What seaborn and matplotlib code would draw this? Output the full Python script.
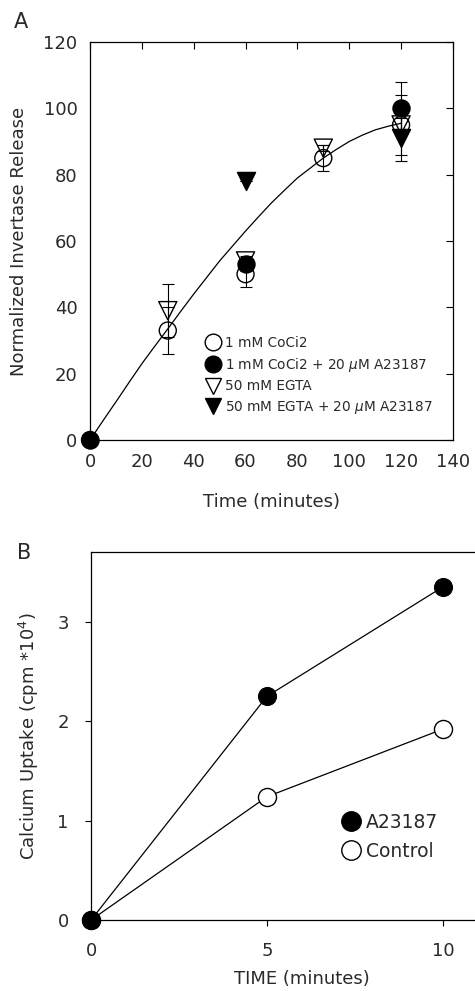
import numpy as np
import pandas as pd
import matplotlib
matplotlib.use("Agg")
import matplotlib.pyplot as plt
import seaborn as sns
from matplotlib.lines import Line2D

# ---------------- Panel A data ----------------
time_a = [0, 30, 60, 90, 120]
cocl2 = [0, 33, 50, 85, 95]
cocl2_err = [0, 7, 4, 4, 9]

time_cocl2_a23 = [0, 60, 120]
cocl2_a23 = [0, 53, 100]
cocl2_a23_err = [0, 2, 8]

time_egta = [30, 60, 90, 120]
egta = [39, 54, 88, 95]
egta_err = [8, 1.5, 1, 2]

time_egta_a23 = [60, 120]
egta_a23 = [78, 91]
egta_a23_err = [0, 7]

curve_x = [0, 5, 10, 15, 20, 25, 30, 35, 40, 45, 50, 55, 60, 65, 70, 75, 80,
           85, 90, 95, 100, 105, 110, 115, 120]
curve_y = [0, 5.8, 11.5, 17.3, 23, 28.3, 33.5, 38.8, 44, 49, 54, 58.5, 63,
           67.3, 71.5, 75.3, 79, 82, 85, 87.6, 90, 91.9, 93.5, 94.6, 95.5]

labels_a = ["1 mM CoCi2", "1 mM CoCi2 + 20 $\\mu$M A23187",
            "50 mM EGTA", "50 mM EGTA + 20 $\\mu$M A23187"]

# ---------------- Panel B data ----------------
time_b = [0, 5, 10]
a23187 = [0, 2.25, 3.35]
control = [0, 1.24, 1.92]
labels_b = ["A23187", "Control"]

sns.set_style("white")
plt.rcParams['font.family'] = ['DejaVu Sans']
TXT = "#2a2a2a"

fig = plt.figure(figsize=(4.75, 9.91), dpi=100)

# ---------------- Panel A ----------------
axA = fig.add_axes([0.1895, 0.556, 0.764, 0.4016])
sns.lineplot(x=curve_x, y=curve_y, ax=axA, color="black", lw=0.9, zorder=2)

series = [
    (time_a, cocl2, cocl2_err, "o", "none"),
    (time_cocl2_a23, cocl2_a23, cocl2_a23_err, "o", "black"),
    (time_egta, egta, egta_err, "v", "none"),
    (time_egta_a23, egta_a23, egta_a23_err, "v", "black"),
]
handles = []
for (tx, ty, te, mk, fc), lab in zip(series, labels_a):
    axA.errorbar(tx, ty, yerr=te, fmt="none", ecolor="black", elinewidth=0.8,
                 capsize=4, capthick=0.8, zorder=3)
    sns.scatterplot(x=tx, y=ty, ax=axA, marker=mk, s=150 if mk == "o" else 170,
                    facecolor=fc, edgecolor="black", linewidth=1.0, zorder=4,
                    clip_on=False)
    handles.append(Line2D([], [], ls="none", marker=mk, markersize=12,
                          markerfacecolor=fc, markeredgecolor="black", label=lab))

axA.set_xlim(0, 140)
axA.set_ylim(0, 120)
axA.set_xticks(range(0, 141, 20))
axA.set_yticks(range(0, 121, 20))
axA.tick_params(direction="in", length=5, width=0.8, top=True, right=True,
                labelsize=13, colors="black", labelcolor=TXT, pad=9)
for s in axA.spines.values():
    s.set_visible(True)
    s.set_linewidth(0.9)
    s.set_color("black")
axA.set_xlabel("Time (minutes)", fontsize=13, color=TXT, labelpad=16)
axA.set_ylabel("Normalized Invertase Release", fontsize=13, color=TXT, labelpad=11)
leg = axA.legend(handles=handles, loc="upper left", bbox_to_anchor=(0.295, 0.275),
                 frameon=False, fontsize=9.8, handletextpad=0.15, labelspacing=0.42,
                 borderaxespad=0, handlelength=1.5)
for t in leg.get_texts():
    t.set_color(TXT)
fig.text(0.03, 0.978, "A", fontsize=15, color=TXT, va="center", ha="left")

# ---------------- Panel B ----------------
axB = fig.add_axes([0.1916, 0.0716, 0.889, 0.3713])
dfB = pd.DataFrame({
    "time": time_b * 2,
    "uptake": control + a23187,
    "group": [labels_b[1]] * 3 + [labels_b[0]] * 3,
})
sns.lineplot(data=dfB[dfB.group == labels_b[1]], x="time", y="uptake", ax=axB,
             color="black", lw=0.9, marker="o", markersize=13,
             markerfacecolor="white", markeredgecolor="black", markeredgewidth=1.0,
             clip_on=False)
sns.lineplot(data=dfB[dfB.group == labels_b[0]], x="time", y="uptake", ax=axB,
             color="black", lw=0.9, marker="o", markersize=13,
             markerfacecolor="black", markeredgecolor="black", clip_on=False)
axB.set_xlim(0, 12)
axB.set_ylim(0, 3.7)
axB.set_xticks([0, 5, 10])
axB.set_yticks([0, 1, 2, 3])
axB.tick_params(direction="out", length=4, width=0.8, labelsize=13,
                colors="black", labelcolor=TXT, pad=12, left=True, bottom=True)
for s in axB.spines.values():
    s.set_visible(True)
    s.set_linewidth(0.9)
    s.set_color("black")
axB.set_xlabel("TIME (minutes)", fontsize=13, color=TXT, labelpad=7)
axB.set_ylabel("Calcium Uptake (cpm *10$^4$)", fontsize=13, color=TXT, labelpad=12)
hB = [Line2D([], [], ls="none", marker="o", markersize=14, markerfacecolor="black",
             markeredgecolor="black", label=labels_b[0]),
      Line2D([], [], ls="none", marker="o", markersize=14, markerfacecolor="white",
             markeredgecolor="black", label=labels_b[1])]
legB = axB.legend(handles=hB, loc="upper left", bbox_to_anchor=(0.575, 0.312),
                  frameon=False, fontsize=13.5, handletextpad=0.3, labelspacing=0.55,
                  borderaxespad=0, handlelength=1.0)
for t in legB.get_texts():
    t.set_color(TXT)
fig.text(0.035, 0.442, "B", fontsize=15, color=TXT, va="center", ha="left")

fig.savefig("out.png", dpi=100)
